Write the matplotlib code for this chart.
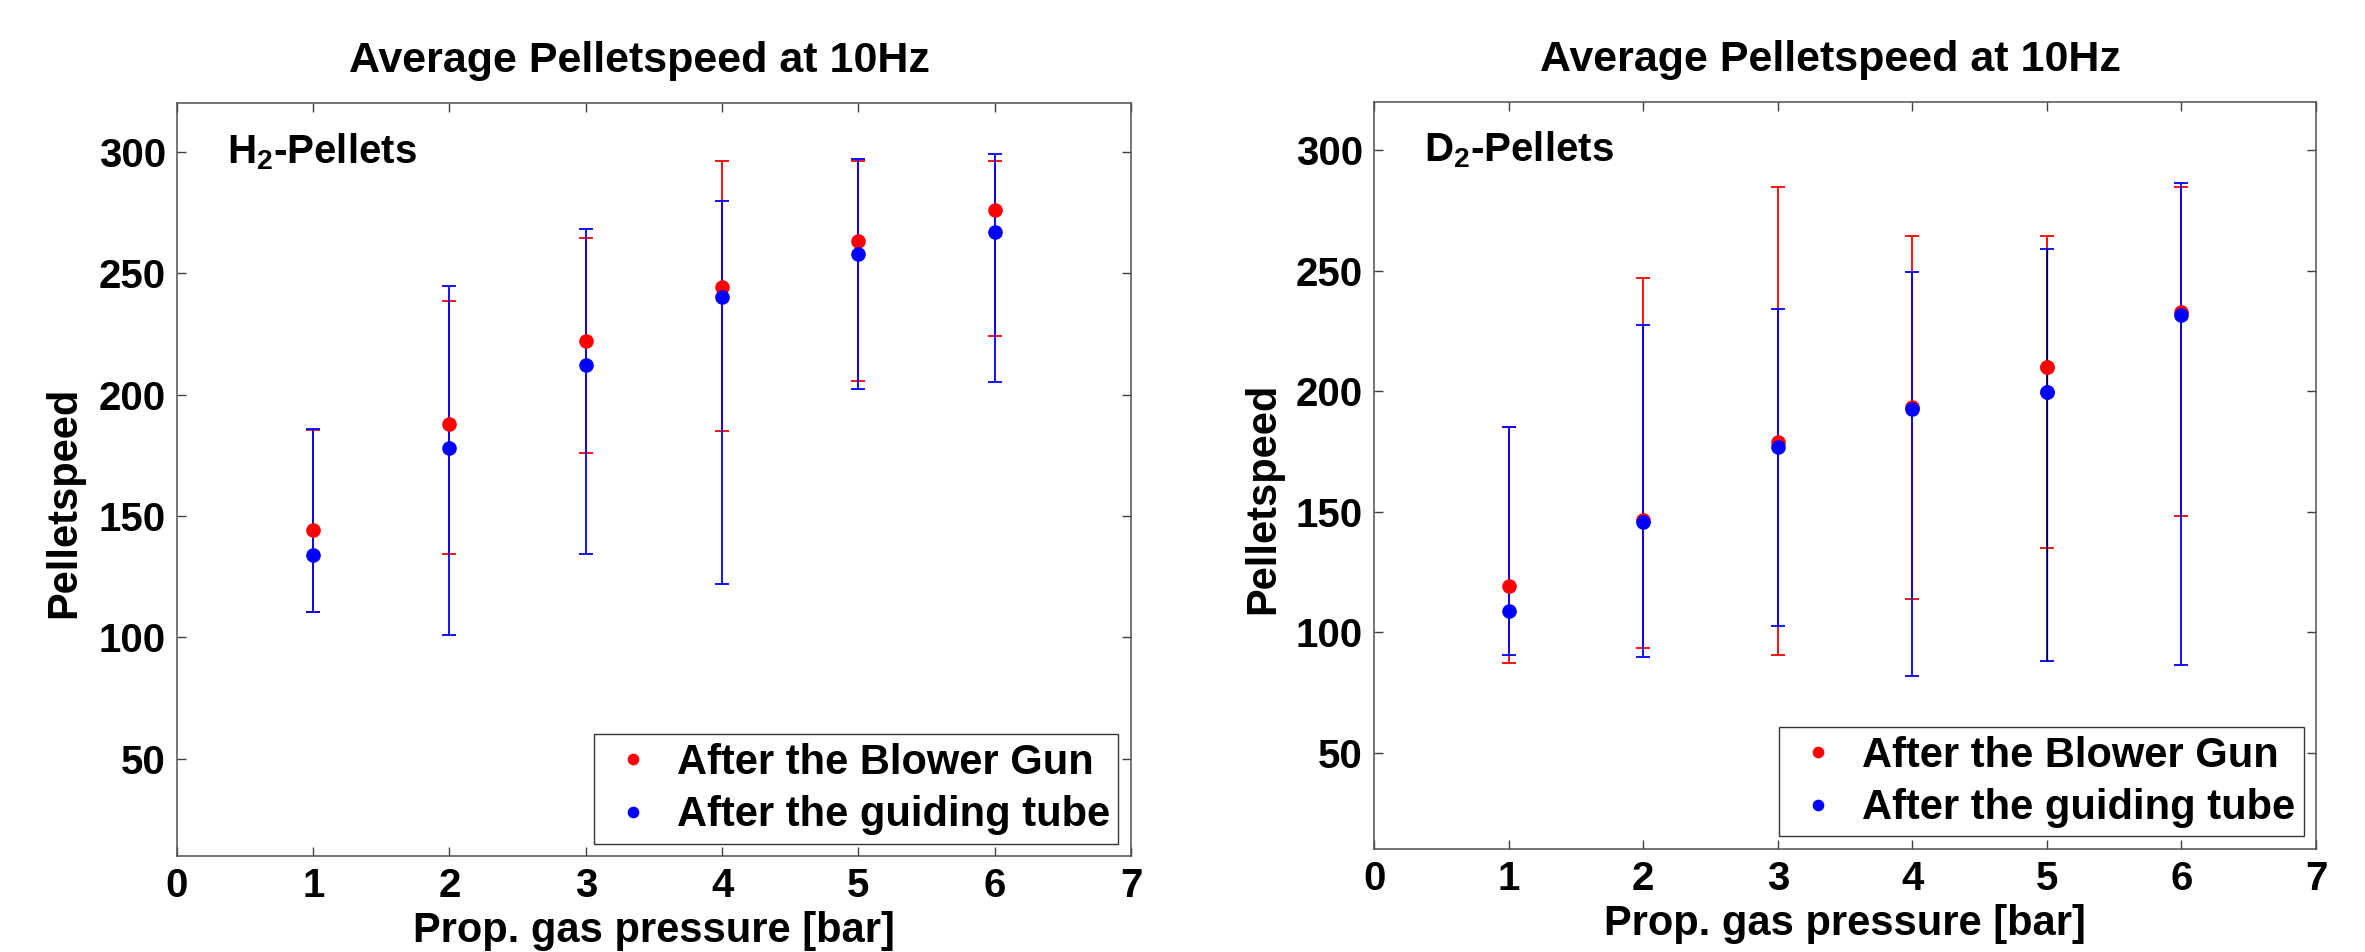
"""
Average pellet speed vs propellant gas pressure, H2 and D2 pellets.
"""

import matplotlib
matplotlib.use("Agg")
import matplotlib.pyplot as plt
import numpy as np

plt.rcParams.update({
    'font.family': ['Liberation Sans', 'DejaVu Sans'],
    'font.weight': 'bold',
    'font.size': 29,
    'mathtext.default': 'regular',
    'axes.linewidth': 1.1,
    'axes.edgecolor': '#505050',
})

# propellant gas pressure [bar]
pressure = [1, 2, 3, 4, 5, 6]

# H2 pellets: mean, min, max
h2_gun_mean = [144.2, 187.7, 221.9, 244.2, 263.1, 276.0]
h2_gun_lo = [110.4, 134.4, 176.0, 184.9, 205.5, 224.1]
h2_gun_hi = [185.2, 238.5, 264.4, 296.0, 296.0, 296.0]
h2_tube_mean = [134.1, 177.9, 212.1, 240.2, 257.9, 266.9]
h2_tube_lo = [110.4, 101.1, 134.4, 121.8, 202.2, 205.0]
h2_tube_hi = [185.8, 244.5, 268.1, 279.5, 296.8, 298.9]

# D2 pellets: mean, min, max
d2_gun_mean = [119.0, 146.5, 178.9, 193.4, 210.0, 233.0]
d2_gun_lo = [87.3, 93.6, 90.3, 113.9, 134.7, 148.3]
d2_gun_hi = [185.0, 246.9, 284.9, 264.5, 264.5, 284.9]
d2_tube_mean = [108.8, 145.6, 177.0, 192.6, 199.8, 231.5]
d2_tube_lo = [90.6, 89.8, 102.4, 81.7, 88.0, 86.5]
d2_tube_hi = [185.0, 227.3, 234.2, 249.3, 259.0, 286.5]

x_ticks = [0, 1, 2, 3, 4, 5, 6, 7]
y_ticks = [50, 100, 150, 200, 250, 300]
labels = ["After the Blower Gun", "After the guiding tube"]


def draw_panel(ax, tag, gun, tube, label_x):
    """Draw one panel: errorbars (min/max) plus mean dots for both positions."""
    handles = []
    for (mean, lo, hi), color in zip([gun, tube], ["red", "blue"]):
        mean = np.array(mean)
        yerr = [mean - np.array(lo), np.array(hi) - mean]
        ax.errorbar(pressure, mean, yerr=yerr, fmt="none", ecolor=color,
                    elinewidth=1.3, capsize=5, capthick=1.3)
    for (mean, lo, hi), color in zip([gun, tube], ["red", "blue"]):
        h, = ax.plot(pressure, mean, "o", color=color, markersize=10.5,
                     markeredgewidth=0)
        handles.append(h)

    ax.set_xlim(0, 7)
    ax.set_ylim(10, 320)
    ax.set_xticks(x_ticks)
    ax.set_yticks(y_ticks)
    ax.tick_params(direction="in", length=6.5, width=1.0, color="#404040",
                   top=True, right=True, labelsize=29)
    ax.tick_params(axis="x", pad=8)
    ax.tick_params(axis="y", pad=8)
    ax.set_title("Average Pelletspeed at 10Hz", fontsize=31, fontweight="bold",
                 pad=22, x=0.485)
    ax.set_xlabel("Prop. gas pressure [bar]", fontsize=30, fontweight="bold", labelpad=4)
    ax.set_ylabel("Pelletspeed", fontsize=30, fontweight="bold")
    ax.yaxis.set_label_coords(label_x, 0.47)
    ax.text(0.37, 300, tag, fontsize=29, fontweight="bold", va="center", ha="left")
    leg = ax.legend(handles, labels, loc="lower right", fontsize=30,
                    frameon=True, fancybox=False, edgecolor="black",
                    handlelength=1.5, handletextpad=0.3, borderpad=0.2,
                    labelspacing=0.3, borderaxespad=0.3, markerscale=0.8)
    leg.get_frame().set_linewidth(1.0)
    return ax


fig = plt.figure(figsize=(23.65, 9.52), dpi=100)
ax1 = fig.add_axes([0.0748, 0.1008, 0.4034, 0.791])
ax2 = fig.add_axes([0.581, 0.1082, 0.3983, 0.7847])

draw_panel(ax1, "H$_2$-Pellets",
           (h2_gun_mean, h2_gun_lo, h2_gun_hi),
           (h2_tube_mean, h2_tube_lo, h2_tube_hi), -0.097)
draw_panel(ax2, "D$_2$-Pellets",
           (d2_gun_mean, d2_gun_lo, d2_gun_hi),
           (d2_tube_mean, d2_tube_lo, d2_tube_hi), -0.096)

# the stem at 5 bar in the D2 panel shows up black in the original
ax2.vlines(pressure[4], d2_tube_lo[4], d2_tube_hi[4], color="black", linewidth=0.9)
ax2.plot(pressure[4], d2_gun_mean[4], "o", color="red", markersize=10.5, markeredgewidth=0)
ax2.plot(pressure[4], d2_tube_mean[4], "o", color="blue", markersize=10.5, markeredgewidth=0)

plt.savefig("out.png", dpi=100)
